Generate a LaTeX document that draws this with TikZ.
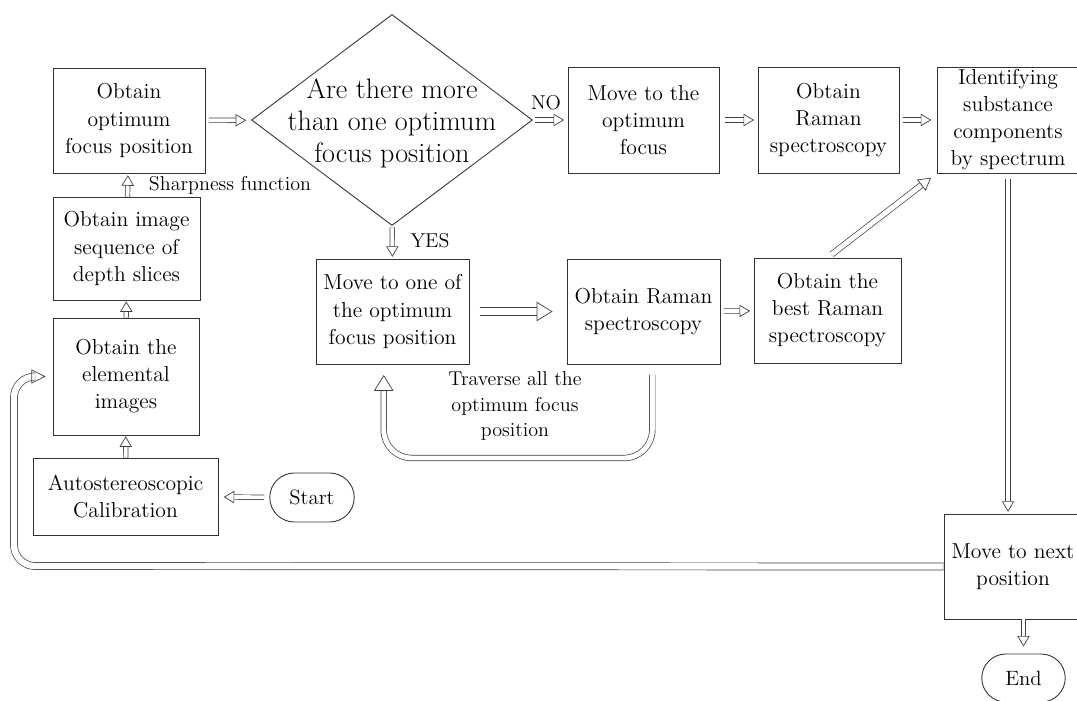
\documentclass[tikz,border=0pt]{standalone}
\usetikzlibrary{arrows.meta,shapes.geometric,shapes.misc}
\newcommand{\boxfont}{\fontsize{12.3}{15.4}\selectfont}
\newcommand{\askfont}{\fontsize{16}{18.2}\selectfont}
\newcommand{\notefont}{\fontsize{11.4}{14.7}\selectfont}
\tikzset{
  procbox/.style={draw=black!80, line width=0.5pt, align=center, inner sep=1pt, font=\boxfont},
  termbox/.style={draw=black!80, line width=0.5pt, rounded rectangle, inner sep=1pt, font=\fontsize{11.8}{14}\selectfont},
  decide/.style={draw=black!80, line width=0.5pt, diamond, inner sep=0pt},
  flowarrow/.style={draw=black!75, line width=0.4pt, double, double distance=2.2pt, -{Triangle[open, length=6pt, width=7pt]}, shorten <=2pt, shorten >=2pt},
  widearrow/.style={flowarrow, double distance=3.8pt, -{Triangle[open, length=9pt, width=11pt]}},
  flowlabel/.style={font=\notefont, align=center, inner sep=0pt},
}
\begin{document}
\begin{tikzpicture}[x=0.02cm, y=-0.02cm]
\useasboundingbox (0,0) rectangle (1077,700);
\fill[white] (0,0) rectangle (1077,700);
% left column
\node[procbox, minimum width=3.04cm, minimum height=2.10cm] (optpos) at (129,120.5) {Obtain\\optimum\\focus position};
\node[procbox, minimum width=2.94cm, minimum height=2.06cm] (slices) at (126.5,248.5) {Obtain image\\sequence of\\depth slices};
\node[procbox, minimum width=2.92cm, minimum height=2.34cm] (elem) at (126,376.5) {Obtain the\\elemental\\images};
\node[procbox, minimum width=3.70cm, minimum height=1.54cm] (calib) at (125.5,496.5) {Autostereoscopic\\Calibration};
\node[termbox, minimum width=1.76cm, minimum height=0.98cm] (start) at (312,497.5) {Start};
% decision
\node[decide, minimum width=5.62cm, minimum height=4.22cm] (ask) at (392,120) {};
\node[font=\askfont, align=center, inner sep=0pt] (asktext) at ([yshift=-2pt]ask.center) {Are there more\\than one optimum\\focus position};
% upper row
\node[procbox, minimum width=3.02cm, minimum height=2.12cm] (moveopt) at (643.5,120) {Move to the\\optimum\\focus};
\node[procbox, minimum width=2.82cm, minimum height=2.12cm] (raman) at (828.5,120) {Obtain\\Raman\\spectroscopy};
\node[procbox, minimum width=2.84cm, minimum height=2.12cm] (ident) at (1008,120) {Identifying\\substance\\components\\by spectrum};
% lower row
\node[procbox, minimum width=3.06cm, minimum height=2.10cm] (moveone) at (392.5,311.5) {Move to one of\\the optimum\\focus position};
\node[procbox, minimum width=3.06cm, minimum height=2.10cm] (ramanall) at (643.5,311.5) {Obtain Raman\\spectroscopy};
\node[procbox, minimum width=2.94cm, minimum height=2.10cm] (best) at (827.5,310.5) {Obtain the\\best Raman\\spectroscopy};
% right column
\node[procbox, minimum width=2.76cm, minimum height=2.10cm] (next) at (1013,566.5) {Move to next\\position};
\node[termbox, minimum width=1.74cm, minimum height=0.96cm] (end) at (1023.5,678) {End};
% labels
\node[flowlabel] (sharp) at (230,185) {Sharpness function};
\node[flowlabel] (yes) at (430,241) {YES};
\node[flowlabel] (no) at (546,103) {NO};
\node[flowlabel] (traverse) at (515,406) {Traverse all the\\optimum focus\\position};
\coordinate (loopbot) at (515,458);
\coordinate (loopleft) at (14,566);
% arrows
\draw[flowarrow, shorten <=3pt, shorten >=3pt] (start) -- (calib);
\draw[flowarrow, shorten <=0pt, shorten >=0.5pt] (calib) -- (elem);
\draw[flowarrow, shorten <=0pt, shorten >=0.5pt] (elem) -- (slices);
\draw[flowarrow, shorten <=0pt, shorten >=1pt] (slices) -- (optpos);
\draw[flowarrow, shorten >=3pt] (optpos) -- (ask);
\draw[flowarrow, shorten <=1pt] (ask) -- (moveopt);
\draw[flowarrow, shorten <=3pt] (moveopt) -- (raman);
\draw[flowarrow, shorten <=2pt, shorten >=3pt] (raman) -- (ident);
\draw[flowarrow, shorten <=1pt, shorten >=1pt] (ask) -- (moveone);
\draw[widearrow, shorten <=6pt, shorten >=8pt] (moveone) -- (ramanall);
\draw[flowarrow] (ramanall) -- (best);
\draw[flowarrow, double distance=2.8pt, -{Triangle[open, length=7pt, width=8pt]}, shorten <=3pt, shorten >=4pt] (best.north) -- (ident.south west);
\draw[flowarrow, double distance=2.8pt, shorten <=3pt, shorten >=1pt] (ident.south) -- (ident.south |- next.north);
\draw[flowarrow, shorten <=0pt, shorten >=4pt] (end.north |- next.south) -- (end.north);
\draw[widearrow, double distance=2.8pt, rounded corners=16pt, shorten <=6pt, shorten >=6pt] ([xshift=5pt]ramanall.south) |- (loopbot) -| ([xshift=-5pt]moveone.south);
\draw[flowarrow, double distance=3.6pt, -{Triangle[open, length=8pt, width=8pt]}, rounded corners=12pt, shorten <=0pt, shorten >=4pt] (next.west) -- (loopleft) |- (elem.west);
\end{tikzpicture}
\end{document}
